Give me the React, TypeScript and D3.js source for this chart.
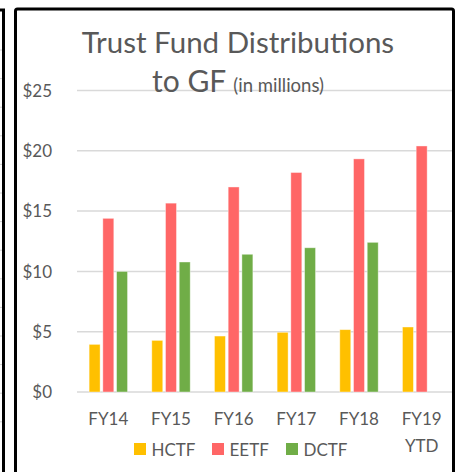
import * as d3 from 'd3';
import React from 'react';

const width = 461;
const height = 472;

const years = ['FY14', 'FY15', 'FY16', 'FY17', 'FY18', 'FY19\nYTD'];
const seriesNames = ['HCTF', 'EETF', 'DCTF'];
const hctf = [3.95, 4.28, 4.64, 4.95, 5.17, 5.39];
const eetf = [14.4, 15.66, 17.0, 18.2, 19.33, 20.4];
const dctf = [10.0, 10.78, 11.42, 11.96, 12.41, null];
const yTicks = [0, 5, 10, 15, 20, 25];
const colors = ['#FFC000', '#FF6666', '#70AD47'];

const font = 'Lato, "Open Sans", sans-serif';
const grey = '#595959';

function App() {
  const plotLeft = 77;
  const plotRight = 453;
  const y = d3.scaleLinear().domain([0, 25]).range([392, 90.5]);
  const x0 = d3.scaleBand().domain(years).range([plotLeft, plotRight]).paddingInner(0.387).paddingOuter(0.1935);
  const x1 = d3.scaleBand().domain(seriesNames).range([0, x0.bandwidth()]).paddingInner(0.2);
  const values = [hctf, eetf, dctf];

  // grey stub ticks from the neighbouring chart on the left
  const stubs = d3.range(50, 440, 28.6);

  return (
    <svg width={width} height={height} style={{position: 'absolute', left: 0, top: 0, background: '#fff'}}>
      {/* left neighbour frame */}
      {stubs.map((s, i) => (
        <line key={i} x1={0} x2={2} y1={s} y2={s} stroke="#d0d0d0" strokeWidth={1} />
      ))}
      <path d="M0,10 L3.5,10 L3.5,472" fill="none" stroke="#000" strokeWidth={3} />

      {/* main frame */}
      <path d="M15.5,472 L15.5,11 Q15.5,9 17.5,9 L451.5,9 Q453.5,9 453.5,11 L453.5,472" fill="none" stroke="#000" strokeWidth={3} />

      {/* gridlines */}
      {yTicks.map(t => (
        <line key={t} x1={plotLeft} x2={452} y1={y(t)} y2={y(t)} stroke="#d9d9d9" strokeWidth={1.5} />
      ))}
      {yTicks.map(t => (
        <text key={'l' + t} x={52} y={y(t)} dy="0.36em" textAnchor="end" fontFamily={font} fontSize={17} fill={grey}>
          ${t}
        </text>
      ))}

      {/* bars */}
      {values.map((vals, si) =>
        vals.map((v, i) =>
          v == null ? null : (
            <rect
              key={si + '-' + i}
              x={(x0(years[i]) as number) + (x1(seriesNames[si]) as number)}
              y={y(v)}
              width={x1.bandwidth()}
              height={y(0) - y(v)}
              fill={colors[si]}
              stroke="#fff"
              strokeOpacity={0.5}
              strokeWidth={0.8}
            />
          )
        )
      )}

      {/* category labels */}
      {years.map(yr => (
        <text key={yr} textAnchor="middle" fontFamily={font} fontSize={17} fill={grey}>
          {yr.split('\n').map((line, li) => (
            <tspan key={li} x={(x0(yr) as number) + x0.bandwidth() / 2} y={425 + li * 26.5}>
              {line}
            </tspan>
          ))}
        </text>
      ))}

      {/* legend */}
      {seriesNames.map((name, i) => {
        const lx = [134, 212, 286][i];
        return (
          <g key={name}>
            <rect x={lx} y={443} width={12} height={12} fill={colors[i]} />
            <text x={lx + 17.5} y={455.5} fontFamily={font} fontSize={17} fill={grey}>
              {name}
            </text>
          </g>
        );
      })}

      {/* title */}
      <text x={238} y={53} textAnchor="middle" fontFamily={font} fontSize={29.5} fill={grey}>
        Trust Fund Distributions
      </text>
      <text x={238} y={92} textAnchor="middle" fontFamily={font} fill={grey}>
        <tspan fontSize={30}>to GF </tspan>
        <tspan fontSize={18.5}>(in millions)</tspan>
      </text>
    </svg>
  );
}

export default App;
